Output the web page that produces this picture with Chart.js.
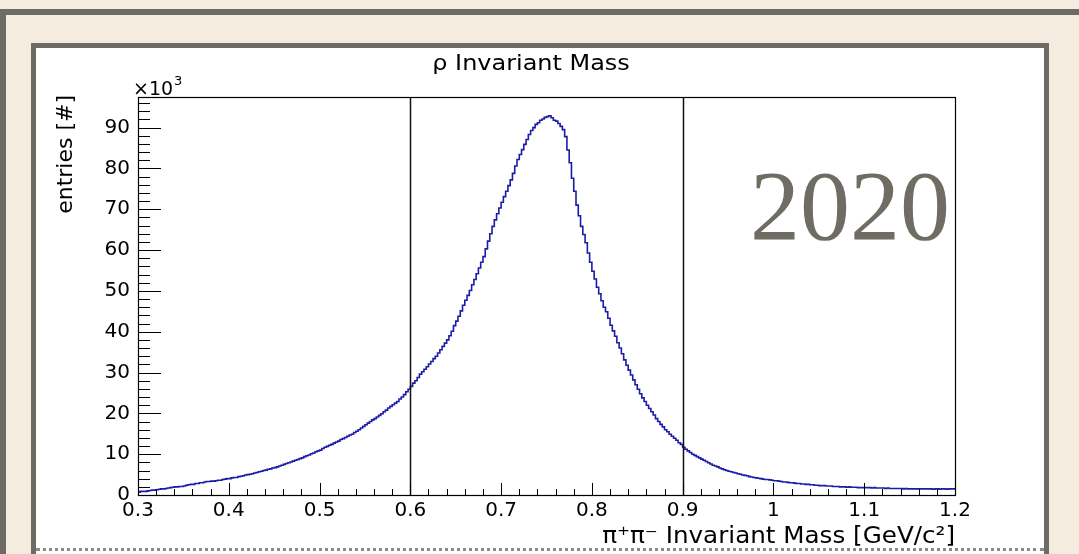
<!DOCTYPE html>
<html>
<head>
<meta charset="utf-8">
<script src="https://cdn.jsdelivr.net/npm/chart.js@4.4.1/dist/chart.umd.min.js"></script>
<style>
  html, body { margin: 0; padding: 0; width: 1079px; height: 554px; overflow: hidden; background: #f3ecdf; }
  .outer { position: absolute; left: 0; top: 9px; width: 1100px; height: 620px; border: 6px solid #6e6b65; box-sizing: border-box; }
  .panel { position: absolute; left: 31px; top: 43px; width: 1018px; height: 620px; background: #fff; border: 5px solid #6e6b65; box-sizing: border-box; }
  .dots { position: absolute; left: 36px; top: 548px; width: 1008px; border-top: 3px dotted #8d8983; }
  .year { position: absolute; left: 750px; top: 156px; font-family: "Liberation Serif", serif; font-size: 100px; line-height: 100px; color: #6f6c64; }
  #wrap { position: absolute; left: 0; top: 0; width: 1079px; height: 554px; }
</style>
</head>
<body>
<div class="outer"></div>
<div class="panel"></div>
<div class="dots"></div>
<div id="wrap"><canvas id="rhoMass" width="1079" height="554"></canvas></div>
<div class="year">2020</div>
<script>
// histogram binning (GeV/c^2)
const binLow = 0.3;
const binWidth = 0.0025;

// entries per bin, in units of 10^3 (one row = 0.05 GeV/c^2)
const entriesK = [
  0.7, 0.9, 0.9, 0.9, 1.0, 1.1, 1.2, 1.2, 1.3, 1.4, 1.5, 1.5, 1.6, 1.7, 1.8, 1.9, 2.0, 2.0, 2.1, 2.1,
  2.2, 2.4, 2.5, 2.6, 2.6, 2.8, 2.8, 3.0, 3.0, 3.2, 3.3, 3.3, 3.4, 3.4, 3.5, 3.6, 3.6, 3.8, 3.9, 4.0,
  4.0, 4.2, 4.3, 4.3, 4.5, 4.6, 4.7, 4.9, 5.0, 5.1, 5.2, 5.4, 5.5, 5.7, 5.8, 6.0, 6.1, 6.3, 6.4, 6.6,
  6.7, 6.9, 7.1, 7.3, 7.5, 7.7, 7.9, 8.1, 8.3, 8.5, 8.7, 8.9, 9.1, 9.4, 9.6, 9.8, 10.1, 10.3, 10.6, 10.8,
  11.0, 11.4, 11.7, 11.9, 12.2, 12.4, 12.7, 13.0, 13.2, 13.6, 13.8, 14.1, 14.4, 14.7, 14.9, 15.3, 15.6, 16.0, 16.4, 16.8,
  17.2, 17.6, 18.0, 18.4, 18.7, 19.1, 19.5, 19.9, 20.4, 20.8, 21.3, 21.7, 22.1, 22.5, 22.9, 23.5, 24.0, 24.6, 25.3, 25.9,
  26.6, 27.4, 28.0, 28.8, 29.6, 30.2, 30.8, 31.4, 32.1, 32.7, 33.4, 34.0, 34.8, 35.6, 36.4, 37.2, 38.0, 39.0, 40.1, 41.5,
  42.6, 43.8, 45.1, 46.5, 47.7, 48.9, 50.1, 51.5, 52.8, 54.2, 55.6, 57.0, 58.4, 60.3, 62.2, 64.0, 65.8, 67.4, 68.9, 70.3,
  71.7, 73.1, 74.4, 75.8, 77.2, 78.8, 80.6, 82.2, 83.4, 84.6, 85.9, 87.1, 88.3, 89.3, 90.0, 90.8, 91.2, 91.8, 92.1, 92.5,
  92.7, 92.9, 92.4, 91.8, 91.6, 91.0, 90.3, 89.5, 87.8, 84.5, 81.4, 77.6, 74.4, 71.0, 68.4, 65.8, 63.8, 61.8, 59.3, 57.0,
  54.8, 52.9, 50.9, 49.3, 47.6, 46.0, 44.9, 43.3, 41.6, 40.2, 38.9, 37.3, 36.0, 34.6, 33.1, 31.8, 30.6, 29.4, 28.2, 27.0,
  25.9, 24.8, 23.8, 22.9, 22.0, 21.2, 20.4, 19.6, 18.7, 18.0, 17.3, 16.7, 16.0, 15.5, 14.9, 14.4, 13.9, 13.4, 12.8, 12.4,
  11.7, 11.2, 10.8, 10.4, 10.0, 9.7, 9.4, 9.1, 8.8, 8.5, 8.2, 7.9, 7.6, 7.3, 7.1, 6.9, 6.6, 6.4, 6.2, 6.0,
  5.8, 5.7, 5.5, 5.4, 5.2, 5.1, 4.9, 4.8, 4.7, 4.5, 4.4, 4.3, 4.2, 4.1, 4.0, 3.9, 3.8, 3.8, 3.7, 3.6,
  3.5, 3.5, 3.4, 3.3, 3.2, 3.2, 3.1, 3.0, 3.0, 2.9, 2.8, 2.8, 2.7, 2.7, 2.6, 2.6, 2.5, 2.5, 2.4, 2.4,
  2.3, 2.3, 2.3, 2.2, 2.2, 2.2, 2.1, 2.1, 2.1, 2.0, 2.0, 2.0, 1.9, 2.0, 1.9, 1.9, 1.9, 1.8, 1.8, 1.8,
  1.8, 1.8, 1.8, 1.7, 1.8, 1.7, 1.7, 1.7, 1.7, 1.6, 1.7, 1.6, 1.6, 1.6, 1.6, 1.6, 1.6, 1.5, 1.6, 1.5,
  1.5, 1.5, 1.5, 1.5, 1.5, 1.5, 1.5, 1.5, 1.5, 1.5, 1.4, 1.5, 1.5, 1.4, 1.5, 1.5, 1.4, 1.5, 1.5, 1.5
];

const xTicks = [0.3, 0.4, 0.5, 0.6, 0.7, 0.8, 0.9, 1.0, 1.1, 1.2];
const yTicks = [0, 10, 20, 30, 40, 50, 60, 70, 80, 90];
const cutLines = [0.6, 0.9];

const titleText = "ρ Invariant Mass";
const xTitle = "π⁺π⁻ Invariant Mass [GeV/c²]";
const yTitle = "entries [#]";

// step points: each bin starts at its low edge, last point closes the final bin
const points = entriesK.map((v, i) => ({ x: binLow + i * binWidth, y: v }));
points.push({ x: binLow + entriesK.length * binWidth, y: entriesK[entriesK.length - 1] });

const FONT = "'DejaVu Sans', sans-serif";

// text a bit wider than the font, like the stretched original
function wideText(ctx, text, x, y, sx) {
  ctx.save();
  ctx.translate(x, y);
  ctx.scale(sx, 1);
  ctx.fillText(text, 0, 0);
  ctx.restore();
}

// ROOT style: ticks inside the frame, cut lines, titles, exponent
const rootDecor = {
  id: "rootDecor",
  afterDatasetsDraw(chart) {
    const { ctx, chartArea: a, scales } = chart;
    const xs = scales.x, ys = scales.y;
    ctx.save();

    // cut lines
    ctx.strokeStyle = "#111";
    ctx.lineWidth = 1.5;
    cutLines.forEach((m) => {
      const px = Math.round(xs.getPixelForValue(m)) + 0.5;
      ctx.beginPath();
      ctx.moveTo(px, a.top);
      ctx.lineTo(px, a.bottom);
      ctx.stroke();
    });

    // frame
    ctx.lineWidth = 1.2;
    ctx.strokeStyle = "#000";
    ctx.strokeRect(a.left + 0.5, a.top + 0.5, a.right - a.left, a.bottom - a.top);

    // x ticks: major 0.1, minor 0.02
    ctx.lineWidth = 1;
    for (let i = 0; i <= 45; i++) {
      const px = Math.round(xs.getPixelForValue(0.3 + i * 0.02)) + 0.5;
      const len = i % 5 === 0 ? 12 : 6;
      ctx.beginPath();
      ctx.moveTo(px, a.bottom);
      ctx.lineTo(px, a.bottom - len);
      ctx.stroke();
    }
    // y ticks: major 10, minor 2
    for (let i = 0; i <= 48; i++) {
      const py = Math.round(ys.getPixelForValue(i * 2)) + 0.5;
      const len = i % 5 === 0 ? 23 : 12;
      ctx.beginPath();
      ctx.moveTo(a.left, py);
      ctx.lineTo(a.left + len, py);
      ctx.stroke();
    }

    ctx.fillStyle = "#000";
    ctx.textBaseline = "alphabetic";

    // title
    ctx.font = "21px " + FONT;
    ctx.textAlign = "center";
    wideText(ctx, titleText, 531, 70, 1.14);

    // exponent
    ctx.textAlign = "left";
    ctx.font = "19px " + FONT;
    ctx.fillText("×10", a.left - 5, a.top - 2);
    const w = ctx.measureText("×10").width;
    ctx.font = "13px " + FONT;
    ctx.fillText("3", a.left - 4 + w, a.top - 12);

    // x axis title
    ctx.font = "23px " + FONT;
    ctx.textAlign = "right";
    wideText(ctx, xTitle, a.right, 543, 1.07);

    // y axis title
    ctx.translate(72, a.top - 2);
    ctx.rotate(-Math.PI / 2);
    ctx.font = "22px " + FONT;
    ctx.textAlign = "right";
    ctx.fillText(yTitle, 0, 0);

    ctx.restore();
  }
};

new Chart(document.getElementById("rhoMass"), {
  type: "line",
  data: {
    datasets: [{
      data: points,
      borderColor: "#1c1ca6",
      borderWidth: 1.6,
      pointRadius: 0,
      stepped: true,
      fill: false
    }]
  },
  options: {
    responsive: false,
    animation: false,
    events: [],
    layout: { padding: { left: 38, right: 124, top: 97, bottom: 0 } },
    plugins: { legend: { display: false }, tooltip: { enabled: false }, title: { display: false } },
    scales: {
      x: {
        type: "linear",
        min: 0.3,
        max: 1.2,
        afterFit: (s) => { s.height = 59; },
        afterBuildTicks: (s) => { s.ticks = xTicks.map((v) => ({ value: v })); },
        grid: { display: false, drawTicks: false },
        border: { display: false },
        ticks: {
          padding: 4,
          color: "#000",
          font: { family: FONT, size: 20 },
          maxRotation: 0,
          autoSkip: false,
          callback: (v) => String(Number(v.toFixed(1)))
        }
      },
      y: {
        type: "linear",
        min: 0,
        max: 97.5,
        afterFit: (s) => { s.width = 100; },
        afterBuildTicks: (s) => { s.ticks = yTicks.map((v) => ({ value: v })); },
        grid: { display: false, drawTicks: false },
        border: { display: false },
        ticks: {
          padding: 8,
          color: "#000",
          font: { family: FONT, size: 20 },
          autoSkip: false
        }
      }
    }
  },
  plugins: [rootDecor]
});
</script>
</body>
</html>
